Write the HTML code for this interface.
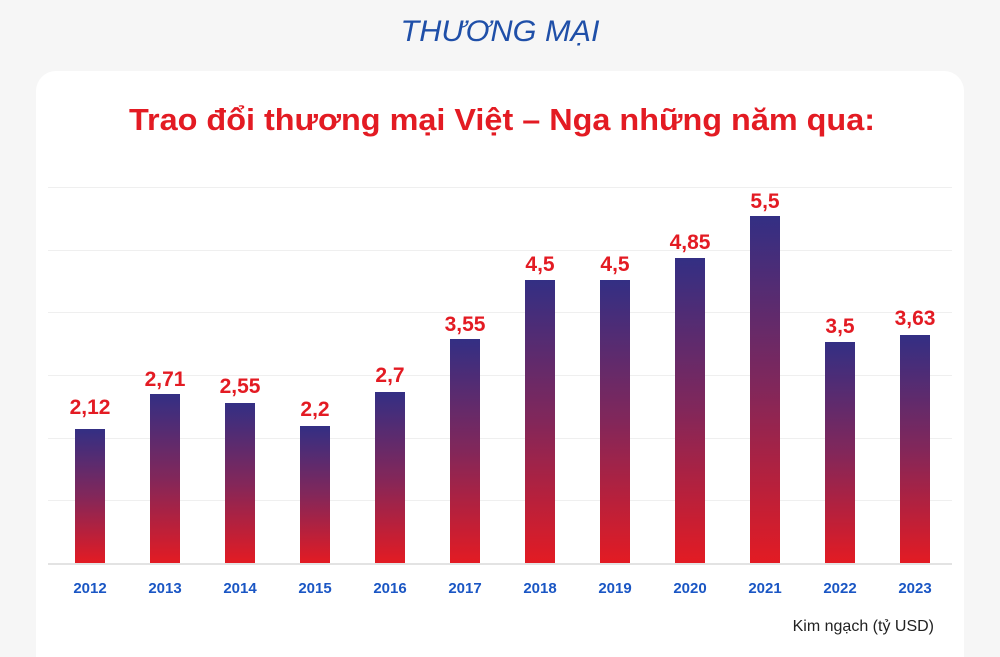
<!DOCTYPE html>
<html><head><meta charset="utf-8"><style>
html,body{margin:0;padding:0;background:#f6f6f6;width:1000px;height:657px;overflow:hidden}
</style></head><body>
<svg width="1000" height="657" xmlns="http://www.w3.org/2000/svg" style="display:block">
<defs>
<linearGradient id="g" x1="0" y1="0" x2="0" y2="1">
<stop offset="0" stop-color="#332f84"/>
<stop offset="0.5" stop-color="#82275a"/>
<stop offset="1" stop-color="#e31b23"/>
</linearGradient>
</defs>
<rect x="0" y="0" width="1000" height="657" fill="#f6f6f6"/>
<text x="500" y="41" text-anchor="middle" font-family="Liberation Sans, sans-serif" font-style="italic" font-size="30" fill="#1f4fa8" textLength="199" lengthAdjust="spacingAndGlyphs">THƯƠNG MẠI</text>
<path d="M36 657 V91 A20 20 0 0 1 56 71 H944 A20 20 0 0 1 964 91 V657 Z" fill="#fff"/>
<text x="502" y="130" text-anchor="middle" font-family="Liberation Sans, sans-serif" font-weight="bold" font-size="31" fill="#e31b23" textLength="746" lengthAdjust="spacingAndGlyphs">Trao đổi thương mại Việt – Nga những năm qua:</text>
<g stroke="#efefef" stroke-width="1">
<line x1="48" x2="952" y1="187.5" y2="187.5"/>
<line x1="48" x2="952" y1="250.5" y2="250.5"/>
<line x1="48" x2="952" y1="312.5" y2="312.5"/>
<line x1="48" x2="952" y1="375.5" y2="375.5"/>
<line x1="48" x2="952" y1="438.5" y2="438.5"/>
<line x1="48" x2="952" y1="500.5" y2="500.5"/>
</g>
<g fill="url(#g)">
<rect x="75" y="429" width="30" height="134"/>
<rect x="150" y="394" width="30" height="169"/>
<rect x="225" y="403" width="30" height="160"/>
<rect x="300" y="426" width="30" height="137"/>
<rect x="375" y="392" width="30" height="171"/>
<rect x="450" y="339" width="30" height="224"/>
<rect x="525" y="280" width="30" height="283"/>
<rect x="600" y="280" width="30" height="283"/>
<rect x="675" y="258" width="30" height="305"/>
<rect x="750" y="216" width="30" height="347"/>
<rect x="825" y="342" width="30" height="221"/>
<rect x="900" y="335" width="30" height="228"/>
</g>
<line x1="48" x2="952" y1="564" y2="564" stroke="#e3e3e3" stroke-width="2"/>
<g font-family="Liberation Sans, sans-serif" font-weight="bold" font-size="21" fill="#e31b23" text-anchor="middle">
<text x="90" y="414">2,12</text>
<text x="165" y="386">2,71</text>
<text x="240" y="393">2,55</text>
<text x="315" y="416">2,2</text>
<text x="390" y="382">2,7</text>
<text x="465" y="331">3,55</text>
<text x="540" y="271">4,5</text>
<text x="615" y="271">4,5</text>
<text x="690" y="249">4,85</text>
<text x="765" y="208">5,5</text>
<text x="840" y="333">3,5</text>
<text x="915" y="325">3,63</text>
</g>
<g font-family="Liberation Sans, sans-serif" font-size="15" fill="#1a56c4" text-anchor="middle" font-weight="bold">
<text x="90" y="593">2012</text>
<text x="165" y="593">2013</text>
<text x="240" y="593">2014</text>
<text x="315" y="593">2015</text>
<text x="390" y="593">2016</text>
<text x="465" y="593">2017</text>
<text x="540" y="593">2018</text>
<text x="615" y="593">2019</text>
<text x="690" y="593">2020</text>
<text x="765" y="593">2021</text>
<text x="840" y="593">2022</text>
<text x="915" y="593">2023</text>
</g>
<text x="934" y="631" text-anchor="end" font-family="Liberation Sans, sans-serif" font-size="16" fill="#222">Kim ngạch (tỷ USD)</text>
</svg>
</body></html>
